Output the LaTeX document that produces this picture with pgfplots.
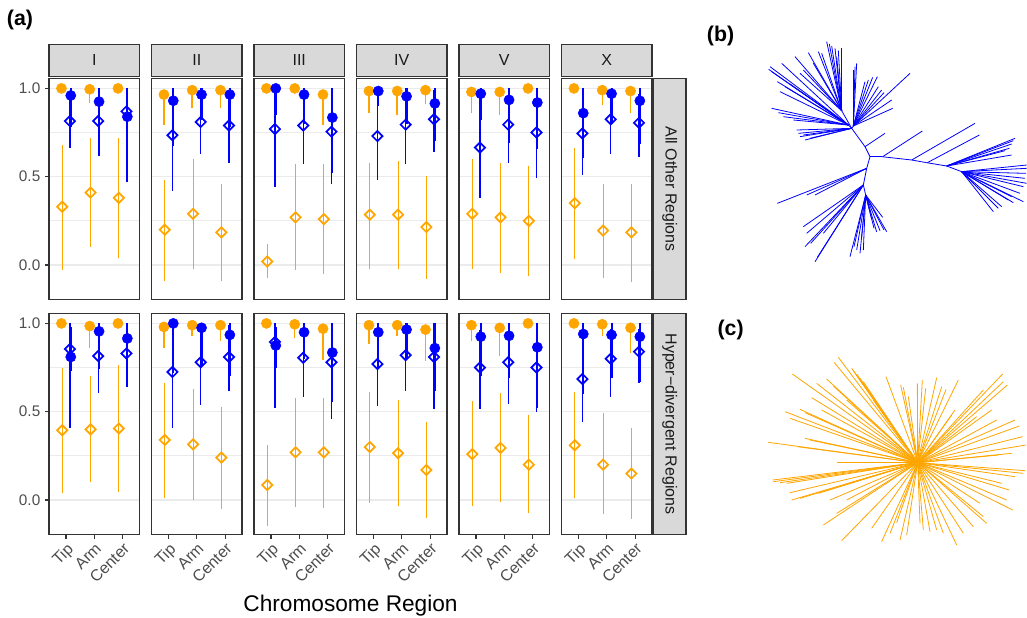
\documentclass[border=0pt]{standalone}
\usepackage{fontspec}
\setmainfont{Liberation Sans}
\usepackage{pgfplots}
\usepackage{pgfplotstable}
\pgfplotsset{compat=1.18}
\definecolor{ggorange}{HTML}{FFA500}
\definecolor{ggblue}{HTML}{0000FF}
\definecolor{stripfill}{HTML}{D9D9D9}
\definecolor{bordercol}{HTML}{333333}
\definecolor{tickcol}{HTML}{4D4D4D}
\definecolor{gridcol}{HTML}{EBEBEB}
\definecolor{striptext}{HTML}{1A1A1A}

% columns: x, orange circle (value, lower), orange diamond (value, lower, upper),
% blue circle (value, lower, upper), blue diamond (value, lower, upper)
\pgfplotstableread{
x oc ocl od odl odu bc bcl bcu bd bdl bdu
1 1.00 1.00 0.33 -0.03 0.68 0.96 0.78 1.00 0.815 0.665 0.97
2 0.995 0.92 0.41 0.10 0.72 0.925 0.62 1.00 0.815 0.70 0.96
3 1.00 1.00 0.38 0.04 0.72 0.84 0.47 1.00 0.87 0.72 0.98
}\tAI
\pgfplotstableread{
x oc ocl od odl odu bc bcl bcu bd bdl bdu
1 0.965 0.79 0.20 -0.09 0.48 0.93 0.675 1.00 0.735 0.42 0.95
2 0.99 0.89 0.29 -0.02 0.60 0.965 0.82 1.00 0.81 0.63 0.97
3 0.99 0.89 0.185 -0.09 0.46 0.965 0.78 1.00 0.79 0.58 0.96
}\tAII
\pgfplotstableread{
x oc ocl od odl odu bc bcl bcu bd bdl bdu
1 1.00 1.00 0.02 -0.075 0.12 1.00 0.85 1.00 0.77 0.44 1.00
2 1.00 1.00 0.27 -0.03 0.57 0.965 0.80 1.00 0.79 0.57 0.97
3 0.965 0.79 0.26 -0.05 0.57 0.835 0.52 1.00 0.755 0.46 0.99
}\tAIII
\pgfplotstableread{
x oc ocl od odl odu bc bcl bcu bd bdl bdu
1 0.985 0.86 0.285 -0.02 0.58 0.985 0.90 1.00 0.73 0.48 0.98
2 0.985 0.85 0.285 -0.025 0.59 0.955 0.80 1.00 0.795 0.57 0.97
3 0.99 0.91 0.215 -0.08 0.505 0.915 0.70 1.00 0.825 0.64 0.99
}\tAIV
\pgfplotstableread{
x oc ocl od odl odu bc bcl bcu bd bdl bdu
1 0.98 0.86 0.29 -0.025 0.60 0.97 0.82 1.00 0.665 0.38 0.95
2 0.98 0.85 0.27 -0.045 0.575 0.935 0.69 1.00 0.795 0.575 0.97
3 1.00 1.00 0.25 -0.065 0.56 0.92 0.655 1.00 0.75 0.495 0.97
}\tAV
\pgfplotstableread{
x oc ocl od odl odu bc bcl bcu bd bdl bdu
1 1.00 1.00 0.35 0.035 0.665 0.86 0.605 1.00 0.745 0.51 0.96
2 0.99 0.905 0.195 -0.075 0.46 0.97 0.80 1.00 0.825 0.63 0.97
3 0.985 0.86 0.185 -0.095 0.46 0.93 0.685 1.00 0.805 0.61 0.97
}\tAX
\pgfplotstableread{
x oc ocl od odl odu bc bcl bcu bd bdl bdu
1 1.00 1.00 0.395 0.04 0.75 0.81 0.73 0.98 0.855 0.41 1.00
2 0.985 0.86 0.40 0.10 0.70 0.955 0.74 1.00 0.815 0.605 0.97
3 1.00 1.00 0.405 0.045 0.765 0.915 0.64 1.00 0.83 0.64 0.98
}\tHI
\pgfplotstableread{
x oc ocl od odl odu bc bcl bcu bd bdl bdu
1 0.98 0.86 0.34 0.01 0.665 1.00 0.72 1.00 0.725 0.41 1.00
2 0.99 0.93 0.315 0.00 0.63 0.975 0.76 1.00 0.78 0.54 0.97
3 0.99 0.90 0.24 -0.05 0.525 0.935 0.70 1.00 0.81 0.62 0.99
}\tHII
\pgfplotstableread{
x oc ocl od odl odu bc bcl bcu bd bdl bdu
1 1.00 1.00 0.085 -0.145 0.31 0.875 0.75 0.98 0.895 0.52 1.00
2 0.995 0.92 0.27 -0.04 0.575 0.95 0.80 1.00 0.805 0.585 0.97
3 0.97 0.79 0.27 -0.045 0.58 0.835 0.555 1.00 0.78 0.46 0.99
}\tHIII
\pgfplotstableread{
x oc ocl od odl odu bc bcl bcu bd bdl bdu
1 0.99 0.885 0.30 -0.015 0.61 0.95 0.74 1.00 0.77 0.53 0.98
2 0.99 0.93 0.265 -0.035 0.565 0.965 0.80 1.00 0.82 0.62 0.98
3 0.965 0.785 0.17 -0.10 0.44 0.86 0.615 1.00 0.81 0.515 1.00
}\tHIV
\pgfplotstableread{
x oc ocl od odl odu bc bcl bcu bd bdl bdu
1 0.99 0.90 0.26 -0.035 0.56 0.925 0.70 1.00 0.75 0.515 0.96
2 0.975 0.815 0.295 -0.01 0.605 0.93 0.69 1.00 0.78 0.545 0.98
3 1.00 1.00 0.20 -0.075 0.48 0.865 0.52 1.00 0.75 0.50 0.98
}\tHV
\pgfplotstableread{
x oc ocl od odl odu bc bcl bcu bd bdl bdu
1 1.00 1.00 0.31 0.01 0.61 0.94 0.60 1.00 0.685 0.44 0.97
2 0.995 0.93 0.20 -0.08 0.49 0.935 0.69 1.00 0.80 0.585 0.97
3 0.975 0.835 0.15 -0.105 0.405 0.925 0.67 1.00 0.84 0.66 0.97
}\tHX

% tree (b): branch segments (x1 y1 x2 y2)
\pgfplotstableread{
x1 y1 x2 y2
540 410 525 380
525 380 485 325
525 380 585 340
540 410 575 410
575 410 665 420
665 420 710 428
710 428 770 438
578 410 697 333
665 420 855 310
712 428 868 345
540 410 530 445
530 445 520 495
520 495 527 525
530 445 262 550
530 445 350 525
530 445 375 525
485 325 455 272
485 325 490 318
485 325 475 315
455 272 410 65
455 272 418 72
455 272 425 78
455 272 435 85
455 272 445 92
455 272 455 85
455 272 440 110
455 272 395 100
455 272 385 95
455 272 355 98
455 272 370 130
455 272 340 150
455 272 315 110
455 272 330 160
475 315 275 130
475 315 240 140
475 315 236 148
475 315 245 155
475 315 262 185
475 315 285 200
475 315 300 192
475 315 270 215
475 315 245 265
475 315 265 278
475 315 280 290
475 315 310 300
485 325 320 330
485 325 325 340
485 325 330 350
485 325 345 360
485 325 360 355
485 325 340 345
490 318 500 130
490 318 495 140
490 318 490 150
490 318 525 185
490 318 535 180
490 318 548 172
490 318 562 170
490 318 565 200
490 318 575 210
490 318 582 218
490 318 605 240
490 318 608 265
490 318 660 160
770 438 975 355
770 438 970 362
770 438 965 372
770 438 958 385
770 438 945 392
770 438 965 405
770 438 815 455
815 455 1010 435
815 455 1010 445
815 455 1008 460
815 455 1005 475
815 455 1010 490
815 455 1000 500
815 455 990 520
815 455 1000 545
815 455 970 548
815 455 955 540
815 455 935 560
815 455 910 575
815 455 925 565
815 455 965 530
520 495 340 620
520 495 350 640
520 495 345 680
520 495 362 670
520 495 375 725
520 495 382 712
520 495 400 640
527 525 590 635
527 525 582 630
527 525 570 632
527 525 560 636
527 525 552 625
527 525 545 598
527 525 578 592
527 525 520 690
527 525 510 700
527 525 500 690
527 525 480 710
527 525 492 680
527 525 515 652
}\treeb

% tree (c): star-like tree, leaf ends of rays from the centre (683,488)
\pgfplotstableread{
x2 y2
307 222
445 172
432 187
485 205
490 212
500 222
510 235
520 245
410 237
430 258
380 250
365 293
285 335
330 328
345 338
300 355
235 427
345 415
360 420
322 440
440 488
395 330
470 300
550 300
588 230
632 255
640 262
655 290
682 250
697 240
707 265
740 233
755 260
768 268
805 240
795 330
785 345
938 222
952 255
940 245
905 330
880 270
920 360
860 350
975 360
988 378
998 410
1008 435
965 460
925 465
1005 512
1000 520
975 530
968 630
935 550
958 570
950 600
870 610
890 670
880 650
850 680
800 735
820 700
760 700
740 690
720 695
700 690
690 670
650 705
630 720
600 700
575 725
545 685
620 668
455 722
400 675
470 600
440 640
248 540
250 545
270 548
300 578
305 600
330 595
420 600
385 580
290 550
460 555
}\treec

\pgfplotsset{
  panel/.style={
    scale only axis, width=67.875pt, height=166.1pt,
    xmin=0.4, xmax=3.6, ymin=-0.197, ymax=1.057,
    axis line style={draw=bordercol, line width=0.8pt},
    xtick={1,2,3}, ytick={0,0.5,1}, minor ytick={0.25,0.75},
    ymajorgrids, yminorgrids,
    major grid style={draw=gridcol, line width=0.9pt},
    minor grid style={draw=gridcol, line width=0.6pt},
    tick align=outside, major tick length=3pt, minor tick length=0pt,
    xtick pos=bottom, ytick pos=left,
    xticklabels={}, yticklabels={},
    xtick style={draw=none}, ytick style={draw=none},
    ticklabel style={font=\fontsize{11.5}{13}\selectfont, text=tickcol},
    /pgf/number format/assume math mode=true,
  },
  firstcol/.style={yticklabels={0.0,0.5,1.0}, ytick style={draw=bordercol, line width=0.8pt}},
  bottomrow/.style={xticklabels={Tip,Arm,Center}, xtick style={draw=bordercol, line width=0.8pt},
    xticklabel style={rotate=45, anchor=north east, inner sep=1.5pt, font=\fontsize{12}{14}\selectfont}},
  treeax/.style={scale only axis, hide axis, clip=false, y dir=reverse, xmin=0, xmax=1011, ymin=0},
}

\newcommand{\drawpanel}[1]{%
  \addplot[only marks, mark=square, mark size=2.7pt,
    mark options={rotate=45, draw=ggorange, line width=1.3pt},
    error bars/.cd, y dir=both, y explicit, error mark=none,
    error bar style={draw=ggorange, line width=0.75pt}]
    table[x expr=\thisrow{x}-0.13, y=od, y error plus expr=\thisrow{odu}-\thisrow{od}, y error minus expr=\thisrow{od}-\thisrow{odl}] {#1};
  \addplot[only marks, mark=*, mark size=3.8pt, color=ggorange,
    error bars/.cd, y dir=minus, y explicit, error mark=none,
    error bar style={draw=ggorange, line width=1.1pt}]
    table[x expr=\thisrow{x}-0.16, y=oc, y error minus expr=\thisrow{oc}-\thisrow{ocl}] {#1};
  \addplot[only marks, mark=square, mark size=2.7pt,
    mark options={rotate=45, draw=ggblue, line width=1.3pt},
    error bars/.cd, y dir=both, y explicit, error mark=none,
    error bar style={draw=ggblue, line width=0.9pt}]
    table[x expr=\thisrow{x}+0.14, y=bd, y error plus expr=\thisrow{bdu}-\thisrow{bd}, y error minus expr=\thisrow{bd}-\thisrow{bdl}] {#1};
  \addplot[only marks, mark=*, mark size=3.8pt, color=ggblue,
    error bars/.cd, y dir=both, y explicit, error mark=none,
    error bar style={draw=ggblue, line width=1.6pt}]
    table[x expr=\thisrow{x}+0.17, y=bc, y error plus expr=\thisrow{bcu}-\thisrow{bc}, y error minus expr=\thisrow{bc}-\thisrow{bcl}] {#1};
}
\newcommand{\panel}[4]{%
  \begin{axis}[panel, at={(#1,#2)}, anchor=south west, #4]
  \drawpanel{#3}
  \end{axis}}
\newcommand{\topstrip}[2]{%
  \draw[fill=stripfill, draw=bordercol, line width=0.8pt] (#1,-33.2pt) rectangle ++(67.875pt,-24.3pt);
  \node[text=striptext, font=\fontsize{12}{14}\selectfont] at ([xshift=33.94pt]#1,-45.35pt) {#2};}

\begin{document}
\begin{tikzpicture}
% row 1: All Other Regions
\panel{36.75pt}{-224.85pt}{\tAI}{firstcol}
\panel{113.625pt}{-224.85pt}{\tAII}{}
\panel{190.5pt}{-224.85pt}{\tAIII}{}
\panel{267.375pt}{-224.85pt}{\tAIV}{}
\panel{344.25pt}{-224.85pt}{\tAV}{}
\panel{421.125pt}{-224.85pt}{\tAX}{}
% row 2: Hyper-divergent Regions
\panel{36.75pt}{-401.1pt}{\tHI}{firstcol,bottomrow}
\panel{113.625pt}{-401.1pt}{\tHII}{bottomrow}
\panel{190.5pt}{-401.1pt}{\tHIII}{bottomrow}
\panel{267.375pt}{-401.1pt}{\tHIV}{bottomrow}
\panel{344.25pt}{-401.1pt}{\tHV}{bottomrow}
\panel{421.125pt}{-401.1pt}{\tHX}{bottomrow}

% facet strips
\topstrip{36.75pt}{I}
\topstrip{113.625pt}{II}
\topstrip{190.5pt}{III}
\topstrip{267.375pt}{IV}
\topstrip{344.25pt}{V}
\topstrip{421.125pt}{X}
\draw[fill=stripfill, draw=bordercol, line width=0.8pt] (490.3pt,-58.75pt) rectangle (514.5pt,-224.85pt);
\node[rotate=-90, text=striptext, font=\fontsize{12}{14}\selectfont] at (502.4pt,-141.8pt) {All Other Regions};
\draw[fill=stripfill, draw=bordercol, line width=0.8pt] (490.3pt,-235pt) rectangle (514.5pt,-401.1pt);
\node[rotate=-90, text=striptext, font=\fontsize{12}{14}\selectfont] at (502.4pt,-318pt) {Hyper−divergent Regions};

\node[font=\fontsize{17}{20}\selectfont, text=black] at (262.9pt,-454pt) {Chromosome Region};

% panel labels
\node[font=\fontsize{16}{18}\selectfont\bfseries, anchor=west, inner sep=0pt] at (5pt,-15pt) {(a)};
\node[font=\fontsize{16}{18}\selectfont\bfseries, anchor=west, inner sep=0pt] at (530pt,-27pt) {(b)};
\node[font=\fontsize{16}{18}\selectfont\bfseries, anchor=west, inner sep=0pt] at (538pt,-247.5pt) {(c)};

% tree (b)
\begin{axis}[treeax, ymax=750, width=252.75pt, height=187.5pt, at={(517.5pt,-202.5pt)}, anchor=south west]
\addplot[draw=ggblue, line width=0.6pt, no markers,
  quiver={u=\thisrow{x2}-\thisrow{x1}, v=\thisrow{y2}-\thisrow{y1}}]
  table[x=x1, y=y1] {\treeb};
\end{axis}
% tree (c)
\begin{axis}[treeax, ymax=780, width=252.75pt, height=195pt, at={(517.5pt,-420pt)}, anchor=south west]
\addplot[draw=ggorange, line width=0.6pt, no markers,
  quiver={u=\thisrow{x2}-683, v=\thisrow{y2}-488}]
  table[x expr=683, y expr=488] {\treec};
\end{axis}

\pgfresetboundingbox
\useasboundingbox (0,0) rectangle (770.25pt,-462.75pt);
\end{tikzpicture}
\end{document}
